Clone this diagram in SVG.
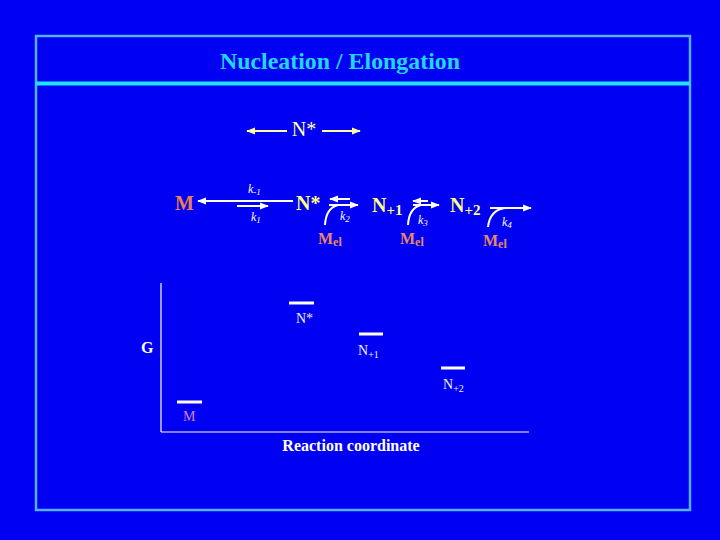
<svg xmlns="http://www.w3.org/2000/svg" width="720" height="540" viewBox="0 0 720 540">
<defs>
<marker id="aw" viewBox="0 0 10 10" refX="9" refY="5" markerWidth="9" markerHeight="9" markerUnits="userSpaceOnUse" orient="auto"><path d="M0,1 L10,5 L0,9 Z" fill="#ffffff"/></marker>
<marker id="ay" viewBox="0 0 10 10" refX="9" refY="5" markerWidth="9" markerHeight="9" markerUnits="userSpaceOnUse" orient="auto"><path d="M0,1 L10,5 L0,9 Z" fill="#ffff99"/></marker>
<style>
.t{font-family:"Liberation Serif","Times New Roman",serif}
.b{font-weight:bold}
.sp{font-size:20px;font-weight:bold;fill:#ffff80}
.m{font-size:20px;font-weight:bold;fill:#e88050}
.mel{font-size:16px;font-weight:bold;fill:#e88868}
.k{font-size:12px;font-style:italic;fill:#ffffff}
.w{stroke:#ffffff;stroke-width:2;fill:none}
.lvl{stroke:#ffffff;stroke-width:3}
.lab{font-size:14px;fill:#f0f0ff}
.labm{font-size:14px;fill:#d080d0}
</style>
</defs>
<rect width="720" height="540" fill="#0000f2"/>
<rect x="36" y="36" width="654" height="474" fill="none" stroke="#5aaeff" stroke-width="2.5"/>
<line x1="36" y1="83.5" x2="690" y2="83.5" stroke="#20e4ff" stroke-width="4"/>
<text class="t b" x="220" y="69" font-size="23" fill="#20d8ff" textLength="240" lengthAdjust="spacingAndGlyphs">Nucleation / Elongation</text>

<g id="nstar-top">
<text class="t" x="304" y="136" font-size="20" fill="#ffffb0" text-anchor="middle">N*</text>
</g>
<g id="node-M"><text class="t m" x="175" y="210">M</text></g>
<g id="node-Nstar"><text class="t sp" x="296" y="210">N*</text></g>
<g id="node-N1"><text class="t sp" x="372" y="212">N<tspan font-size="15" dy="3">+1</tspan></text></g>
<g id="node-N2"><text class="t sp" x="450" y="212">N<tspan font-size="15" dy="3">+2</tspan></text></g>
<g id="mel1"><text class="t mel" x="318" y="244">M<tspan font-size="12" dy="2">el</tspan></text></g>
<g id="mel2"><text class="t mel" x="400" y="244">M<tspan font-size="12" dy="2">el</tspan></text></g>
<g id="mel3"><text class="t mel" x="483" y="246">M<tspan font-size="12" dy="2">el</tspan></text></g>
<g id="klabels">
<text class="t k" x="248" y="193">k<tspan font-size="9" dy="2">-1</tspan></text>
<text class="t k" x="251" y="221">k<tspan font-size="9" dy="2">1</tspan></text>
<text class="t k" x="340" y="220">k<tspan font-size="9" dy="2">2</tspan></text>
<text class="t k" x="418" y="224">k<tspan font-size="9" dy="2">3</tspan></text>
<text class="t k" x="502" y="226">k<tspan font-size="9" dy="2">4</tspan></text>
</g>

<g id="connectors">
<line x1="287" y1="131" x2="247" y2="131" stroke="#ffff99" stroke-width="2" marker-end="url(#ay)"/>
<line x1="322" y1="131" x2="360" y2="131" stroke="#ffff99" stroke-width="2" marker-end="url(#ay)"/>
<line class="w" x1="293" y1="201" x2="198" y2="201" marker-end="url(#aw)"/>
<line class="w" x1="237" y1="206" x2="268" y2="206" marker-end="url(#aw)"/>
<line class="w" x1="350" y1="199" x2="330" y2="199" marker-end="url(#aw)"/>
<line class="w" x1="329" y1="205" x2="358" y2="205" marker-end="url(#aw)"/>
<path class="w" d="M325,225 Q326,208 338,205"/>
<line class="w" x1="428" y1="201" x2="413" y2="201" marker-end="url(#aw)"/>
<line class="w" x1="413" y1="205" x2="439" y2="205" marker-end="url(#aw)"/>
<path class="w" d="M408,225 Q409,208 421,205"/>
<line class="w" x1="490" y1="208" x2="531" y2="208" marker-end="url(#aw)"/>
<path class="w" d="M488,227 Q490,210 505,208"/>
</g>

<g id="energy">
<line x1="161" y1="283" x2="161" y2="432" stroke="#ffffff" stroke-width="1.2"/>
<line x1="161" y1="432" x2="529" y2="432" stroke="#ffffff" stroke-width="1.2"/>
<text class="t b" x="141" y="353" font-size="16" fill="#ffffff">G</text>
<line class="lvl" x1="289" y1="303" x2="314" y2="303"/>
<text class="t lab" x="296" y="323">N*</text>
<line class="lvl" x1="359" y1="334" x2="383" y2="334"/>
<text class="t lab" x="358" y="355">N<tspan font-size="10" dy="3">+1</tspan></text>
<line class="lvl" x1="441" y1="368" x2="465" y2="368"/>
<text class="t lab" x="443" y="389">N<tspan font-size="10" dy="3">+2</tspan></text>
<line class="lvl" x1="177" y1="402" x2="202" y2="402"/>
<text class="t labm" x="183" y="421">M</text>
<text class="t b" x="351" y="451" font-size="16" fill="#ffffff" text-anchor="middle">Reaction coordinate</text>
</g>
</svg>
